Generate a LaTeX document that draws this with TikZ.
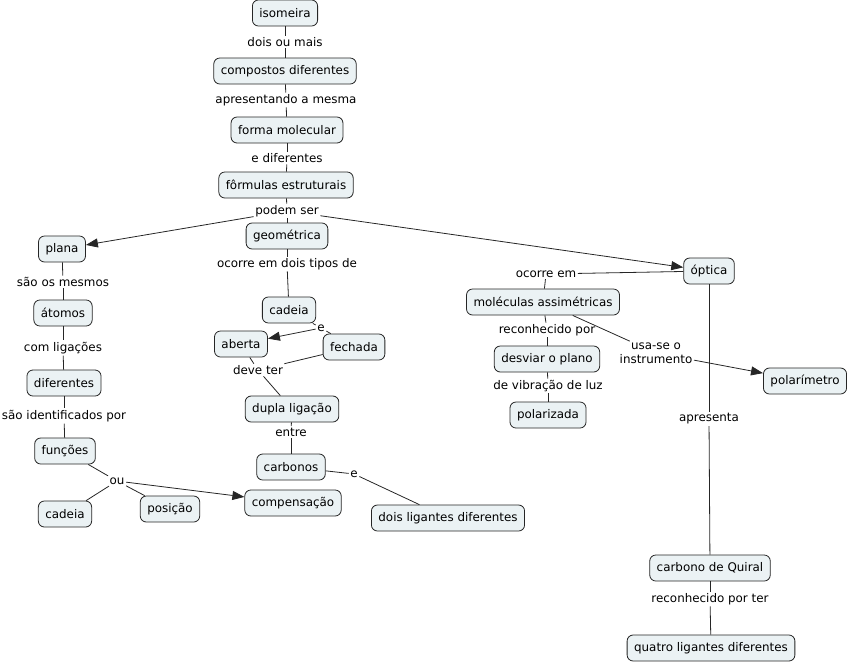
\documentclass[tikz,border=0pt]{standalone}
\usepackage{fontspec}
\setmainfont{DejaVu Sans}
\usetikzlibrary{arrows.meta}
\definecolor{boxfill}{HTML}{EBF2F4}
\begin{document}
\begin{tikzpicture}[x=1pt,y=-1pt,
  box/.style={draw=black!85, fill=boxfill, rounded corners=6pt, line width=0.8pt,
    minimum height=26pt, inner xsep=7pt, font=\fontsize{11.9}{13.5}\selectfont},
  lbl/.style={inner sep=1.5pt, font=\fontsize{11.9}{13.5}\selectfont, align=center},
  con/.style={line width=0.8pt, draw=black!85},
  arr/.style={con, -{Triangle[length=12pt,width=9pt]}}]
\useasboundingbox (0,0) rectangle (850,665);

% central chain
\node[box] (iso) at (285,13) {isomeira};
\node[lbl] (l1) at (285,42) {dois ou mais};
\node[box] (comp) at (285,71) {compostos diferentes};
\node[lbl] (l2) at (286,100) {apresentando a mesma};
\node[box] (forma) at (287,130) {forma molecular};
\node[lbl] (l3) at (287,158) {e diferentes};
\node[box] (form) at (286,185) {fôrmulas estruturais};
\node[lbl] (ps) at (287,211) {podem ser};
\node[box] (geo) at (287,236) {geométrica};

% left branch
\node[box] (plana) at (62,249) {plana};
\node[lbl] (l4) at (63,282) {são os mesmos};
\node[box] (atom) at (63,313) {átomos};
\node[lbl] (l5) at (63,348) {com ligações};
\node[box] (dif) at (64,383) {diferentes};
\node[lbl] (l6) at (64,416) {são identificados por};
\node[box] (func) at (65,451) {funções};
\node[lbl] (ou) at (117,481) {ou};
\node[box] (cad1) at (65,514) {cadeia};
\node[box] (pos) at (170,509) {posição};
\node[box] (compens) at (293,503) {compensação};

% geometric branch
\node[lbl] (l7) at (287,264) {ocorre em dois tipos de};
\node[box] (cad2) at (289,310) {cadeia};
\node[lbl] (e1) at (321,328) {e};
\node[box] (aberta) at (241,344) {aberta};
\node[box] (fech) at (354,347) {fechada};
\node[lbl] (dt) at (258,370) {deve ter};
\node[box] (dupla) at (292,409) {dupla ligação};
\node[lbl] (entre) at (291,432) {entre};
\node[box] (carb) at (291,467) {carbonos};
\node[lbl] (e2) at (354,474) {e};
\node[box] (dois) at (448,518) {dois ligantes diferentes};

% optical branch
\node[box] (opt) at (709,271) {óptica};
\node[lbl] (oc) at (546,274) {ocorre em};
\node[box] (mol) at (543,302) {moléculas assimétricas};
\node[lbl] (rp) at (547,330) {reconhecido por};
\node[box] (desv) at (547,359) {desviar o plano};
\node[lbl] (vib) at (548,386) {de vibração de luz};
\node[box] (polz) at (548,415) {polarizada};
\node[lbl] (usa) at (656,353) {usa-se o\\instrumento};
\node[box] (polm) at (805,381) {polarímetro};
\node[lbl] (apr) at (709,419) {apresenta};
\node[box] (quir) at (710,568) {carbono de Quiral};
\node[lbl] (rpt) at (710,599) {reconhecido por ter};
\node[box] (quatro) at (711,648) {quatro ligantes diferentes};

% connectors
\draw[con] (iso) -- (l1); \draw[con] (l1) -- (comp);
\draw[con] (comp) -- (l2); \draw[con] (l2) -- (forma);
\draw[con] (forma) -- (l3); \draw[con] (l3) -- (form);
\draw[con] (form) -- (ps);
\draw[arr] (ps) -- (plana);
\draw[con] (ps) -- (geo);
\draw[arr] (ps) -- (opt);

\draw[con] (plana) -- (l4); \draw[con] (l4) -- (atom);
\draw[con] (atom) -- (l5); \draw[con] (l5) -- (dif);
\draw[con] (dif) -- (l6); \draw[con] (l6) -- (func);
\draw[con] (func) -- (ou);
\draw[con] (ou) -- (cad1);
\draw[con] (ou) -- (pos);
\draw[arr] (ou) -- (compens);

\draw[con] (geo) -- (l7); \draw[con] (l7) -- (cad2);
\draw[con] (cad2) -- (e1);
\draw[arr] (e1) -- (aberta);
\draw[con] (e1) -- (fech);
\draw[con] (aberta) -- (dt);
\draw[con] (fech) -- (dt);
\draw[con] (dt) -- (dupla);
\draw[con] (dupla) -- (entre); \draw[con] (entre) -- (carb);
\draw[con] (carb) -- (e2); \draw[con] (e2) -- (dois);

\draw[con] (opt) -- (oc); \draw[con] (oc) -- (mol);
\draw[con] (mol) -- (rp); \draw[con] (rp) -- (desv);
\draw[con] (desv) -- (vib); \draw[con] (vib) -- (polz);
\draw[con] (mol) -- (usa);
\draw[arr] (usa) -- (polm);
\draw[con] (opt) -- (apr); \draw[con] (apr) -- (quir);
\draw[con] (quir) -- (rpt); \draw[con] (rpt) -- (quatro);
\end{tikzpicture}
\end{document}
